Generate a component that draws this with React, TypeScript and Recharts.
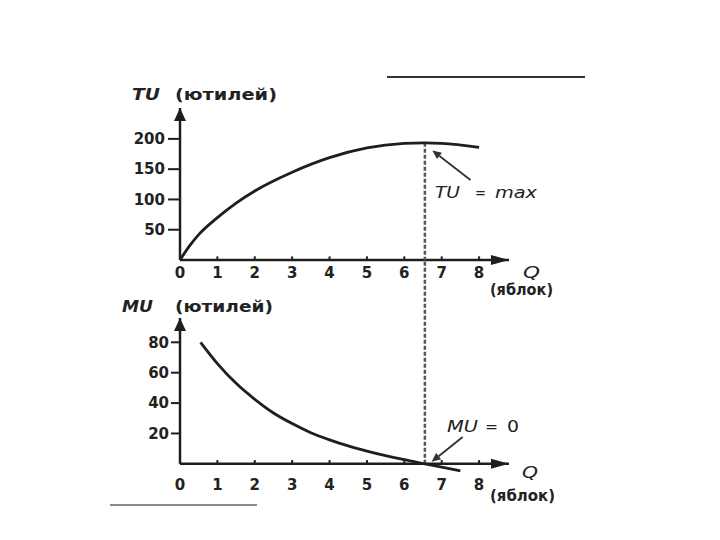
import React from 'react';
import { LineChart, Line, XAxis, YAxis, ReferenceLine, ReferenceDot } from 'recharts';

// ---- data ----
const tuQuantity = [0, 0.25, 0.5, 1, 1.5, 2, 3, 4, 5, 6, 6.55, 7, 8];
const tuValues = [0, 23, 42, 70, 94, 114, 145, 169, 185, 192.5, 193.5, 192.5, 186];
const muQuantity = [0.55, 1, 1.5, 2, 2.5, 3, 3.5, 4, 4.5, 5, 5.5, 6, 6.55, 7, 7.5];
const muValues = [80, 66, 53, 42.5, 33.5, 26.5, 20.5, 15.8, 11.8, 8.4, 5.4, 2.7, 0, -2.2, -4.6];
const qTicks = [0, 1, 2, 3, 4, 5, 6, 7, 8];
const tuTicks = [50, 100, 150, 200];
const muTicks = [20, 40, 60, 80];
const qOptimum = 6.55;
const tuMax = 193.5;
const qDomain: [number, number] = [0, 8.8];
const tuDomain: [number, number] = [0, 251];
const muDomain: [number, number] = [-8, 96];
const muDashTop = 134;
const tuArrow = [{ x: 7.77, y: 132 }, { x: 6.75, y: 181 }];
const muArrow = [{ x: 7.56, y: 17.7 }, { x: 6.73, y: 1.3 }];

const tuData = tuQuantity.map((q, i) => ({ q, v: tuValues[i] }));
const muData = muQuantity.map((q, i) => ({ q, v: muValues[i] }));

const INK = '#1e1e1e';
const FONT = 'DejaVu Sans, sans-serif';
const tickStyle = { fill: '#222', fontSize: 15, fontWeight: 'bold' as const, fontFamily: FONT };

const ArrowRight = (p: any) => (
  <polygon points={`${p.cx},${p.cy} ${p.cx - 18},${p.cy - 5} ${p.cx - 18},${p.cy + 5}`} fill={INK} />
);
const ArrowUp = (p: any) => (
  <polygon points={`${p.cx},${p.cy} ${p.cx - 6},${p.cy + 13} ${p.cx + 6},${p.cy + 13}`} fill={INK} />
);
const ArrowLine = (p: any) => {
  const { x1, y1, x2, y2 } = p;
  const a = Math.atan2(y2 - y1, x2 - x1);
  const L = 9;
  const W = 4;
  const bx = x2 - L * Math.cos(a);
  const by = y2 - L * Math.sin(a);
  const px = -Math.sin(a) * W;
  const py = Math.cos(a) * W;
  return (
    <g>
      <line x1={x1} y1={y1} x2={bx} y2={by} stroke="#333" strokeWidth={1.8} />
      <polygon points={`${x2},${y2} ${bx + px},${by + py} ${bx - px},${by - py}`} fill="#333" />
    </g>
  );
};

function axes(yTop: number, tickH: number) {
  const items: any[] = [];
  items.push(
    <ReferenceLine key="xa" segment={[{ x: qDomain[0], y: 0 }, { x: qDomain[1], y: 0 }]} stroke={INK} strokeWidth={2.5} ifOverflow="visible" />
  );
  items.push(
    <ReferenceLine key="ya" segment={[{ x: 0, y: 0 }, { x: 0, y: yTop }]} stroke={INK} strokeWidth={2.5} ifOverflow="visible" />
  );
  qTicks.filter((t) => t > 0).forEach((t) => {
    items.push(
      <ReferenceLine key={'t' + t} segment={[{ x: t, y: 0 }, { x: t, y: tickH }]} stroke={INK} strokeWidth={2} ifOverflow="visible" />
    );
  });
  items.push(<ReferenceDot key="ax" x={qDomain[1]} y={0} shape={ArrowRight} ifOverflow="visible" />);
  items.push(<ReferenceDot key="ay" x={0} y={yTop} shape={ArrowUp} ifOverflow="visible" />);
  return items;
}

export default function App() {
  const txt = { fontFamily: FONT, fill: '#222' };
  return (
    <div style={{ position: 'absolute', left: 0, top: 0, width: 720, height: 540, background: '#fff' }}>
      <div style={{ position: 'absolute', left: 0, top: 0 }}>
        <LineChart width={720} height={300} data={tuData} margin={{ top: 108, right: 211, bottom: 0, left: 0 }}>
          <XAxis
            dataKey="q"
            type="number"
            domain={qDomain}
            ticks={qTicks}
            axisLine={false}
            tickLine={false}
            tickSize={0}
            tickMargin={7}
            height={40}
            tick={tickStyle}
            interval={0}
          />
          <YAxis
            type="number"
            domain={tuDomain}
            ticks={tuTicks}
            axisLine={false}
            tickLine={{ stroke: INK, strokeWidth: 2 }}
            tickSize={12}
            tickMargin={3}
            width={180}
            tick={tickStyle}
            interval={0}
          />
          {axes(tuDomain[1], 6)}
          <ReferenceLine
            segment={[{ x: qOptimum, y: tuMax }, { x: qOptimum, y: 0 }]}
            stroke="#555"
            strokeWidth={2.5}
            strokeDasharray="4 2"
            ifOverflow="visible"
          />
          <ReferenceLine segment={tuArrow} shape={ArrowLine} ifOverflow="visible" />
          <Line type="monotone" dataKey="v" stroke={INK} strokeWidth={2.8} dot={false} isAnimationActive={false} />
        </LineChart>
      </div>
      <div style={{ position: 'absolute', left: 0, top: 0 }}>
        <LineChart width={720} height={516} data={muData} margin={{ top: 318, right: 211, bottom: 0, left: 0 }}>
          <XAxis
            dataKey="q"
            type="number"
            domain={qDomain}
            ticks={qTicks}
            axisLine={false}
            tickLine={false}
            tickSize={0}
            tickMargin={3}
            height={40}
            tick={tickStyle}
            interval={0}
          />
          <YAxis
            type="number"
            domain={muDomain}
            ticks={muTicks}
            axisLine={false}
            tickLine={{ stroke: INK, strokeWidth: 2 }}
            tickSize={9}
            tickMargin={2}
            width={180}
            tick={tickStyle}
            interval={0}
          />
          {axes(muDomain[1], 2.5)}
          <ReferenceLine
            segment={[{ x: qOptimum, y: 0 }, { x: qOptimum, y: muDashTop }]}
            stroke="#555"
            strokeWidth={2.5}
            strokeDasharray="4 2"
            ifOverflow="visible"
          />
          <ReferenceLine segment={muArrow} shape={ArrowLine} ifOverflow="visible" />
          <Line type="monotone" dataKey="v" stroke={INK} strokeWidth={2.8} dot={false} isAnimationActive={false} />
        </LineChart>
      </div>
      <svg width={720} height={540} style={{ position: 'absolute', left: 0, top: 0, pointerEvents: 'none' }}>
        <line x1={387} y1={77} x2={585} y2={77} stroke="#333" strokeWidth={2} />
        <line x1={110} y1={505} x2={257} y2={505} stroke="#666" strokeWidth={1.5} />

        <text x={132} y={100} fontSize={15} fontWeight="bold" fontStyle="italic" textLength={28} lengthAdjust="spacingAndGlyphs" {...txt}>TU</text>
        <text x={175} y={100} fontSize={15} fontWeight="bold" textLength={102} lengthAdjust="spacingAndGlyphs" {...txt}>(ютилей)</text>
        <text x={523} y={278} fontSize={16} fontStyle="italic" textLength={17} lengthAdjust="spacingAndGlyphs" {...txt}>Q</text>
        <text x={490} y={295} fontSize={15} fontWeight="bold" textLength={63} lengthAdjust="spacingAndGlyphs" {...txt}>(яблок)</text>

        <text x={122} y={312} fontSize={15} fontWeight="bold" fontStyle="italic" textLength={31} lengthAdjust="spacingAndGlyphs" {...txt}>MU</text>
        <text x={175} y={312} fontSize={15} fontWeight="bold" textLength={98} lengthAdjust="spacingAndGlyphs" {...txt}>(ютилей)</text>
        <text x={522} y={478} fontSize={16} fontStyle="italic" textLength={16} lengthAdjust="spacingAndGlyphs" {...txt}>Q</text>
        <text x={490} y={501} fontSize={15} fontWeight="bold" textLength={65} lengthAdjust="spacingAndGlyphs" {...txt}>(яблок)</text>

        <text x={435} y={198} fontSize={15} fontStyle="italic" textLength={25} lengthAdjust="spacingAndGlyphs" {...txt}>TU</text>
        <text x={475} y={198} fontSize={15} textLength={11} lengthAdjust="spacingAndGlyphs" {...txt}>=</text>
        <text x={495} y={198} fontSize={15} fontStyle="italic" textLength={42} lengthAdjust="spacingAndGlyphs" {...txt}>max</text>

        <text x={447} y={432} fontSize={15} fontStyle="italic" textLength={31} lengthAdjust="spacingAndGlyphs" {...txt}>MU</text>
        <text x={485} y={432} fontSize={15} textLength={13} lengthAdjust="spacingAndGlyphs" {...txt}>=</text>
        <text x={507} y={432} fontSize={15} textLength={12} lengthAdjust="spacingAndGlyphs" {...txt}>0</text>
      </svg>
    </div>
  );
}
